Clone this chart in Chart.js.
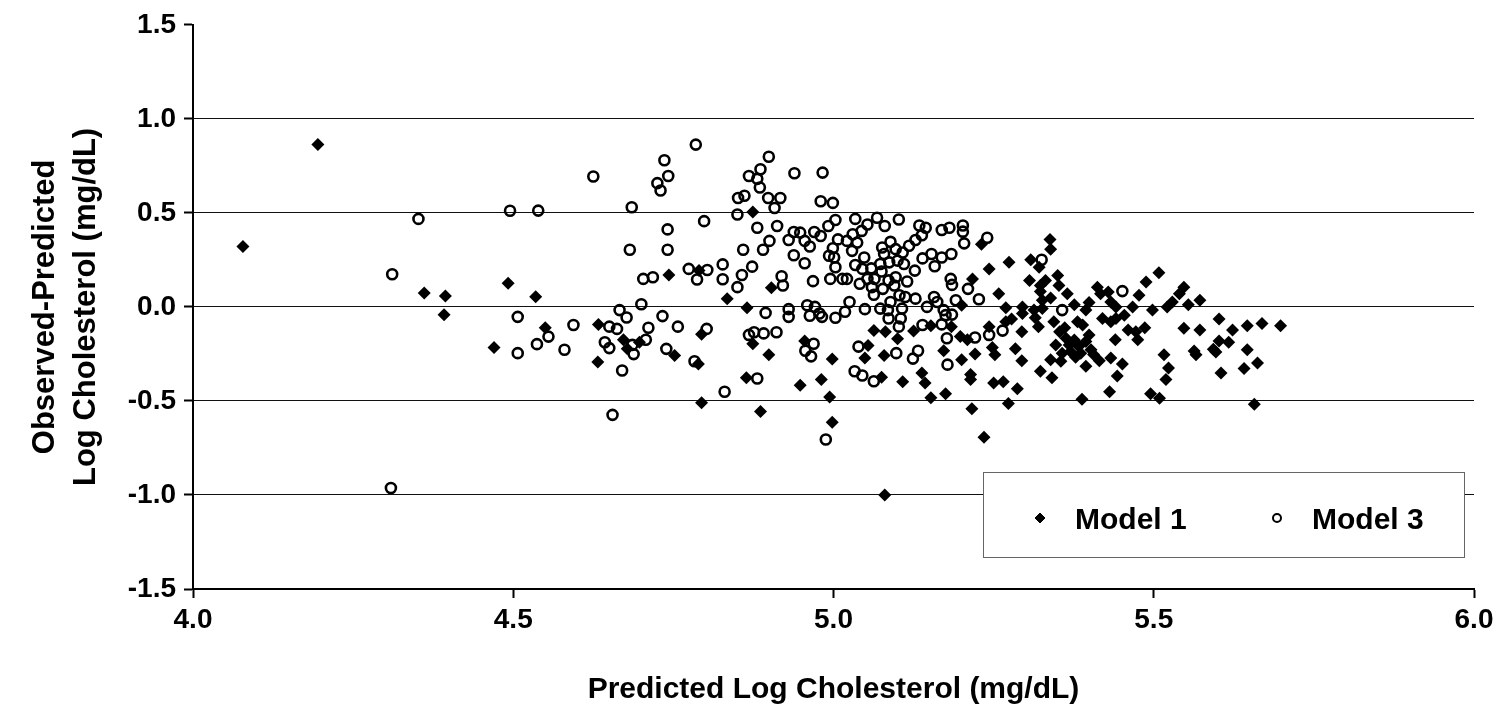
<!DOCTYPE html>
<html>
<head>
<meta charset="utf-8">
<script src="https://cdn.jsdelivr.net/npm/chart.js@4.4.1/dist/chart.umd.min.js"></script>
<style>
  body { margin: 0; background: #fff; }
  #wrap { width: 1503px; height: 722px; }
</style>
</head>
<body>
<div id="wrap"><canvas id="residChart" width="1503" height="722"></canvas></div>
<script>
// residuals: x = predicted log cholesterol, y = observed - predicted
const seriesNames = ['Model 1', 'Model 3'];
const xTicks = [4.0, 4.5, 5.0, 5.5, 6.0];
const yTicks = [-1.5, -1.0, -0.5, 0.0, 0.5, 1.0, 1.5];

const model1X = [4.195, 4.078, 4.361, 4.394, 4.392, 4.492, 4.470, 4.743, 4.790, 4.535,
  4.550, 4.633, 4.794, 4.632, 4.672, 4.678, 4.697, 4.752, 4.789, 4.794,
  4.874, 4.903, 4.834, 4.865, 4.874, 4.899, 4.864, 4.886, 4.955, 4.998,
  4.948, 4.981, 4.994, 4.998, 5.063, 5.054, 5.049, 5.079, 5.075, 5.080,
  5.231, 5.217, 5.200, 5.243, 5.274, 5.258, 5.308, 5.321, 5.306, 5.323,
  5.269, 5.295, 5.313, 5.326, 5.081, 5.100, 5.125, 5.152, 5.184, 5.198,
  5.209, 5.243, 5.269, 5.278, 5.295, 5.294, 5.315, 5.320, 5.172, 5.200,
  5.221, 5.248, 5.252, 5.284, 5.294, 5.323, 5.108, 5.138, 5.143, 5.214,
  5.214, 5.250, 5.265, 5.287, 5.152, 5.175, 5.216, 5.273, 5.235, 5.338,
  5.339, 5.350, 5.331, 5.352, 5.365, 5.339, 5.376, 5.326, 5.344, 5.353,
  5.363, 5.347, 5.368, 5.376, 5.383, 5.394, 5.381, 5.389, 5.399, 5.394,
  5.412, 5.417, 5.429, 5.433, 5.441, 5.420, 5.441, 5.454, 5.467, 5.477,
  5.488, 5.508, 5.498, 5.521, 5.529, 5.540, 5.547, 5.460, 5.472, 5.486,
  5.475, 5.433, 5.399, 5.386, 5.402, 5.357, 5.355, 5.339, 5.341, 5.394,
  5.415, 5.433, 5.440, 5.451, 5.443, 5.431, 5.388, 5.495, 5.509, 5.516,
  5.523, 5.519, 5.547, 5.554, 5.572, 5.572, 5.602, 5.623, 5.646, 5.669,
  5.698, 5.602, 5.617, 5.566, 5.597, 5.646, 5.605, 5.641, 5.662, 5.657,
  5.370, 5.378, 5.406, 5.361, 5.563, 5.593, 5.323];
const model1Y = [0.863, 0.321, 0.074, 0.058, -0.042, 0.126, -0.216, 0.170, 0.193, 0.054,
  -0.111, -0.093, -0.146, -0.293, -0.175, -0.223, -0.188, -0.258, -0.304, -0.509,
  0.505, 0.102, 0.044, -0.005, -0.196, -0.254, -0.377, -0.556, -0.181, -0.277,
  -0.416, -0.386, -0.479, -0.614, -0.126, -0.205, -0.272, -0.258, -0.374, -1.000,
  0.333, 0.149, 0.009, 0.202, 0.237, 0.070, 0.251, 0.211, 0.141, 0.114,
  -0.005, 0.000, -0.017, 0.035, -0.132, -0.170, -0.128, -0.100, -0.105, -0.158,
  -0.175, -0.105, -0.079, -0.065, -0.035, -0.132, -0.058, -0.105, -0.233, -0.281,
  -0.251, -0.216, -0.254, -0.223, -0.286, -0.342, -0.398, -0.351, -0.404, -0.359,
  -0.386, -0.404, -0.398, -0.435, -0.483, -0.462, -0.541, -0.514, -0.693, 0.359,
  0.307, 0.167, 0.141, 0.114, 0.070, 0.047, 0.012, -0.009, -0.079, -0.132,
  -0.167, -0.202, -0.202, -0.176, -0.211, -0.184, -0.079, -0.096, 0.023, -0.017,
  0.105, 0.070, 0.079, 0.026, 0.000, -0.062, -0.062, -0.044, 0.000, 0.062,
  0.132, 0.181, -0.017, 0.000, 0.026, 0.070, 0.105, -0.123, -0.132, -0.111,
  -0.175, -0.079, -0.149, -0.246, -0.228, -0.246, -0.289, -0.281, -0.377, -0.316,
  -0.286, -0.272, -0.175, -0.304, -0.368, -0.451, -0.491, -0.462, -0.486, -0.254,
  -0.325, -0.386, -0.114, 0.012, 0.035, -0.123, -0.065, -0.123, -0.100, -0.088,
  -0.100, -0.181, -0.188, -0.254, -0.240, -0.228, -0.351, -0.328, -0.298, -0.517,
  -0.237, -0.268, -0.253, -0.111, -0.235, -0.225, 0.082];

const model3X = [4.352, 4.495, 4.311, 4.309, 4.507, 4.507, 4.539, 4.625, 4.785, 4.736,
  4.742, 4.725, 4.730, 4.685, 4.798, 4.741, 4.682, 4.741, 4.703, 4.718,
  4.774, 4.787, 4.803, 4.827, 4.827, 4.666, 4.677, 4.700, 4.733, 4.594,
  4.650, 4.662, 4.711, 4.757, 4.802, 4.537, 4.555, 4.580, 4.643, 4.650,
  4.686, 4.688, 4.707, 4.670, 4.739, 4.783, 4.830, 4.655, 4.899, 4.886,
  4.868, 4.881, 4.885, 4.939, 4.983, 4.851, 4.861, 4.898, 4.917, 4.908,
  4.980, 4.999, 4.850, 4.881, 4.912, 4.900, 4.890, 4.859, 4.938, 4.948,
  4.930, 4.955, 4.963, 4.970, 4.980, 4.992, 5.003, 4.938, 4.955, 4.873,
  4.857, 4.850, 4.919, 4.921, 4.968, 4.894, 4.930, 4.930, 4.959, 4.971,
  4.978, 5.003, 5.018, 5.025, 5.049, 4.995, 5.014, 5.021, 5.001, 4.993,
  4.999, 5.007, 5.003, 5.029, 5.021, 5.030, 5.037, 5.034, 5.044, 5.053,
  5.068, 5.080, 5.034, 5.048, 5.059, 5.045, 5.041, 5.060, 5.064, 5.053,
  5.063, 4.868, 4.876, 4.891, 4.911, 4.881, 4.969, 4.956, 4.965, 4.988,
  4.963, 4.982, 5.039, 5.033, 5.045, 5.063, 5.102, 5.134, 5.144, 5.169,
  5.181, 5.202, 5.202, 5.240, 5.204, 5.184, 5.169, 5.153, 5.158, 5.139,
  5.138, 5.128, 5.118, 5.108, 5.097, 5.089, 5.076, 5.079, 5.087, 5.073,
  5.100, 5.110, 5.127, 5.075, 5.097, 5.086, 5.115, 5.077, 5.095, 5.103,
  5.112, 5.128, 5.089, 5.073, 5.085, 5.107, 5.183, 5.185, 5.210, 5.227,
  5.157, 5.162, 5.172, 5.191, 5.146, 5.325, 5.086, 5.105, 5.102, 5.139,
  5.169, 5.175, 5.185, 5.177, 5.221, 5.243, 5.264, 5.098, 5.132, 5.124,
  5.178, 5.357, 5.451];
const model3Y = [0.468, 0.511, 0.174, -0.963, -0.053, -0.246, 0.512, 0.693, 0.863, 0.780,
  0.696, 0.658, 0.619, 0.530, 0.456, 0.412, 0.304, 0.304, 0.149, 0.158,
  0.202, 0.146, 0.196, 0.226, 0.147, -0.017, -0.056, 0.014, -0.049, -0.096,
  -0.105, -0.117, -0.111, -0.105, -0.117, -0.198, -0.158, -0.228, -0.188, -0.219,
  -0.202, -0.251, -0.175, -0.338, -0.223, -0.289, -0.451, -0.574, 0.798, 0.732,
  0.696, 0.681, 0.635, 0.711, 0.714, 0.579, 0.591, 0.579, 0.579, 0.526,
  0.562, 0.553, 0.491, 0.421, 0.430, 0.351, 0.304, 0.304, 0.398, 0.395,
  0.356, 0.351, 0.321, 0.398, 0.377, 0.430, 0.462, 0.275, 0.232, 0.214,
  0.170, 0.105, 0.163, 0.114, 0.137, -0.032, -0.012, -0.053, 0.009, 0.000,
  -0.035, -0.058, -0.026, 0.026, -0.012, 0.149, 0.149, 0.149, 0.263, 0.272,
  0.312, 0.359, 0.211, 0.298, 0.351, 0.386, 0.342, 0.468, 0.404, 0.438,
  0.474, 0.430, 0.223, 0.263, 0.205, 0.202, 0.123, 0.105, 0.149, 0.149,
  0.065, -0.149, -0.135, -0.141, -0.135, -0.381, -0.196, -0.233, -0.263, -0.705,
  -0.047, -0.053, -0.211, -0.342, -0.365, -0.395, 0.465, 0.433, 0.421, 0.409,
  0.421, 0.433, 0.400, 0.368, 0.338, 0.281, 0.263, 0.281, 0.216, 0.258,
  0.381, 0.356, 0.325, 0.289, 0.307, 0.346, 0.316, 0.281, 0.237, 0.228,
  0.246, 0.228, 0.193, 0.188, 0.158, 0.141, 0.135, 0.096, 0.114, 0.062,
  0.053, 0.044, 0.026, -0.009, -0.017, -0.009, 0.149, 0.117, 0.096, 0.041,
  0.053, 0.026, -0.017, 0.035, 0.000, 0.251, -0.062, -0.062, -0.105, -0.096,
  -0.093, -0.044, -0.041, -0.167, -0.163, -0.149, -0.126, -0.246, -0.233, -0.275,
  -0.307, -0.017, 0.084];

const FONT = '"Liberation Sans", Arial, sans-serif';
const toPoints = (xs, ys) => xs.map((x, i) => ({ x: x, y: ys[i] }));

// legend sits inside the plot, bottom right, like the original
const boxedLegend = {
  id: 'boxedLegend',
  afterDraw(chart) {
    const { ctx, chartArea } = chart;
    const w = 481, h = 85;
    const left = chartArea.right - 491, top = chartArea.bottom - 117;
    ctx.save();
    ctx.fillStyle = '#fff';
    ctx.fillRect(left, top, w, h);
    ctx.strokeStyle = '#666';
    ctx.lineWidth = 1;
    ctx.strokeRect(left + 0.5, top + 0.5, w, h);
    ctx.font = 'bold 30px ' + FONT;
    ctx.textBaseline = 'alphabetic';
    const slots = [{ mark: 57, text: 92 }, { mark: 294, text: 329 }];
    chart.data.datasets.forEach((ds, i) => {
      const s = slots[i];
      const hollow = ds.pointStyle === 'circle';
      ctx.fillStyle = hollow ? '#fff' : '#000';
      ctx.strokeStyle = '#000';
      ctx.lineWidth = hollow ? 2 : 1;
      Chart.helpers.drawPoint(ctx, {
        pointStyle: ds.pointStyle,
        radius: hollow ? 4 : 5,
        rotation: 0,
        borderWidth: ctx.lineWidth
      }, left + s.mark, top + 46);
      ctx.fillStyle = '#000';
      ctx.fillText(ds.label, left + s.text, top + 57);
    });
    ctx.restore();
  }
};

new Chart(document.getElementById('residChart'), {
  type: 'scatter',
  data: {
    datasets: [
      {
        label: seriesNames[0],
        data: toPoints(model1X, model1Y),
        pointStyle: 'rectRot',
        pointRadius: 6.5,
        backgroundColor: '#000',
        borderColor: '#000',
        borderWidth: 0,
        order: 2
      },
      {
        label: seriesNames[1],
        data: toPoints(model3X, model3Y),
        pointStyle: 'circle',
        pointRadius: 5,
        backgroundColor: 'rgba(255,255,255,0)',
        borderColor: '#000',
        borderWidth: 2.6,
        order: 1
      }
    ]
  },
  options: {
    responsive: false,
    animation: false,
    layout: { padding: { top: 20, right: 29, left: 0, bottom: 0 } },
    plugins: {
      legend: { display: false },
      tooltip: { enabled: false }
    },
    scales: {
      x: {
        type: 'linear',
        min: xTicks[0],
        max: xTicks[xTicks.length - 1],
        afterBuildTicks: s => { s.ticks = xTicks.map(v => ({ value: v })); },
        afterFit: s => { s.height = 133; },
        ticks: {
          callback: v => Number(v).toFixed(1),
          color: '#000',
          font: { family: FONT, size: 28, weight: 'bold' },
          padding: 5,
          maxRotation: 0
        },
        grid: { drawOnChartArea: false, drawTicks: true, tickLength: 9, tickColor: '#000', tickWidth: 2 },
        border: { display: true, color: '#000', width: 2 },
        title: {
          display: true,
          text: 'Predicted Log Cholesterol (mg/dL)',
          color: '#000',
          font: { family: FONT, size: 30, weight: 'bold', lineHeight: 1.2 },
          padding: { top: 0, bottom: 14 }
        }
      },
      y: {
        type: 'linear',
        min: yTicks[0],
        max: yTicks[yTicks.length - 1],
        afterBuildTicks: s => { s.ticks = yTicks.map(v => ({ value: v })); },
        afterFit: s => { s.width = 193; },
        ticks: {
          callback: v => Number(v).toFixed(1),
          color: '#000',
          font: { family: FONT, size: 28, weight: 'bold' },
          padding: 8
        },
        grid: {
          color: c => (c.tick && Math.abs(c.tick.value) === 1.5) ? 'rgba(0,0,0,0)' : '#111',
          lineWidth: 1,
          tickLength: 9,
          tickColor: '#000',
          tickWidth: 2
        },
        border: { display: true, color: '#000', width: 2 },
        title: {
          display: true,
          text: ['Observed-Predicted', 'Log Cholesterol (mg/dL)'],
          color: '#000',
          font: { family: FONT, size: 31, weight: 'bold', lineHeight: 1.32 },
          padding: { top: 25, bottom: 0 }
        }
      }
    }
  },
  plugins: [boxedLegend]
});
</script>
</body>
</html>
